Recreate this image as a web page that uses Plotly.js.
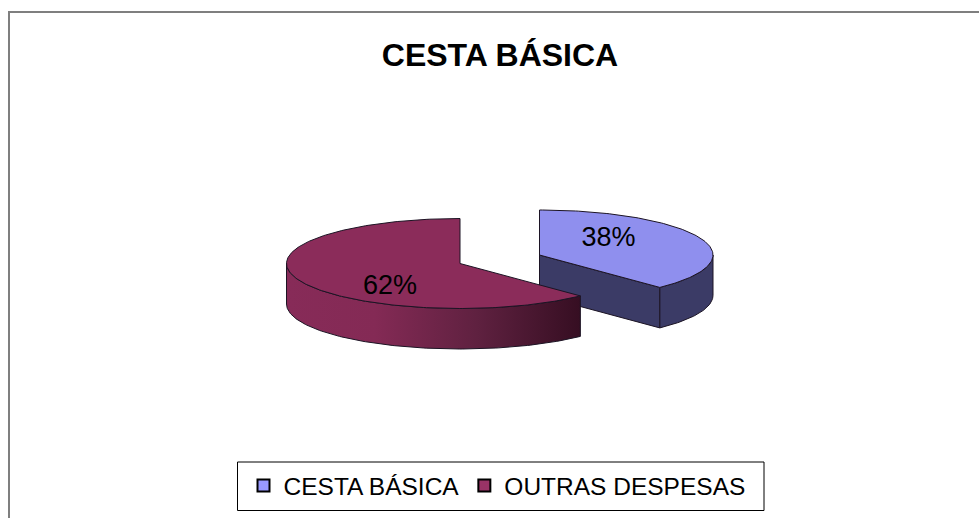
<!DOCTYPE html>
<html>
<head>
<meta charset="utf-8">
<script src="https://cdn.plot.ly/plotly-3.0.1.min.js"></script>
<style>html,body{margin:0;padding:0;background:#fff;overflow:hidden}</style>
</head>
<body>
<div id="chart" style="width:979px;height:518px"></div>
<script>
const categories = ["CESTA BÁSICA", "OUTRAS DESPESAS"];
const values = [37.8, 62.2];
const chartTitle = "CESTA BÁSICA";

const topColors = ["#8f8fee", "#8b2c5a"];
const sideColors = ["#3b3b66", "#8b2c5a"];
const legendColors = ["#9999ff", "#993366"];
const outline = "#1c1424";

// Pie geometry, in the pixel-like units of the axes
const centers = [[539.5, 255], [460, 263.5]];
const rx = 173.5, ry = 45, depth = 40.5;
const labelXs = [608.5, 390], labelYs = [239.5, 287];

const total = values.reduce((a, b) => a + b, 0);
const startDeg = [0, values[0] / total * 360];
const endDeg = [values[0] / total * 360, 360];

function pt(c, deg, drop) {
  const r = deg * Math.PI / 180;
  return [c[0] + rx * Math.sin(r), c[1] - ry * Math.cos(r) + (drop || 0)];
}
function arc(c, a, b, drop) {
  const out = [], n = Math.max(2, Math.ceil(Math.abs(b - a)));
  for (let i = 0; i <= n; i++) out.push(pt(c, a + (b - a) * i / n, drop));
  return out;
}
function poly(points, fill, extra) {
  const p = points.concat([points[0]]);
  return Object.assign({
    x: p.map(q => q[0]), y: p.map(q => q[1]), type: "scatter", mode: "lines",
    fill: "toself", fillcolor: fill,
    line: {color: outline, width: 1}, hoverinfo: "skip", showlegend: false
  }, extra || {});
}

const traces = [];
// Blue slice: cut face, rim, top
const c0 = centers[0];
const e0 = pt(c0, endDeg[0]);
traces.push(poly([c0, e0, [e0[0], e0[1] + depth], [c0[0], c0[1] + depth]], sideColors[0]));
traces.push(poly(arc(c0, 90, endDeg[0]).concat(arc(c0, endDeg[0], 90, depth)), sideColors[0]));
traces.push(poly([c0].concat(arc(c0, startDeg[0], endDeg[0])), topColors[0]));

// Maroon slice: shaded rim, top
const c1 = centers[1];
traces.push(poly(arc(c1, startDeg[1], 270).concat(arc(c1, 270, startDeg[1], depth)), sideColors[1], {
  fillgradient: {
    type: "horizontal",
    colorscale: [[0, "#872b58"], [0.3, "#842a55"], [0.65, "#5f2140"], [1, "#360e22"]]
  }
}));
traces.push(poly([c1].concat(arc(c1, startDeg[1], endDeg[1])), topColors[1]));

// Percentage labels
traces.push({
  x: labelXs, y: labelYs, type: "scatter", mode: "text",
  text: values.map(v => Math.round(v) + "%"), textposition: "middle center",
  textfont: {family: "Liberation Sans, Arial, sans-serif", size: 27, color: "#000"},
  hoverinfo: "skip", showlegend: false
});

// Legend entries
categories.forEach((name, i) => traces.push({
  x: [null], y: [null], type: "scatter", mode: "markers", name: name,
  marker: {symbol: "square", size: 12, color: legendColors[i], line: {color: "#000", width: 2}},
  hoverinfo: "skip"
}));

const layout = {
  width: 979, height: 518,
  margin: {l: 0, r: 0, t: 0, b: 0},
  paper_bgcolor: "#fff", plot_bgcolor: "#fff",
  font: {family: "Liberation Sans, Arial, sans-serif", color: "#000"},
  title: {
    text: "<b>" + chartTitle + "</b>",
    font: {size: 32, color: "#000"},
    x: 500 / 979, xanchor: "center", y: 1 - 55 / 518, yanchor: "middle"
  },
  xaxis: {range: [0, 979], visible: false, fixedrange: true},
  yaxis: {range: [518, 0], visible: false, fixedrange: true},
  showlegend: true,
  legend: {
    orientation: "h", x: 243.5 / 979, xanchor: "left", y: 1 - 485.5 / 518, yanchor: "middle",
    borderwidth: 0, bgcolor: "rgba(0,0,0,0)",
    font: {size: 24.5, color: "#000"}, itemsizing: "constant", traceorder: "normal"
  },
  shapes: [{
    type: "path", xref: "x", yref: "y",
    path: "M 9 518 L 9 12 L 979 12",
    line: {color: "#7f7f7f", width: 2}
  }, {
    type: "rect", xref: "x", yref: "y", x0: 237.5, x1: 764, y0: 462, y1: 510.5,
    line: {color: "#000", width: 1}
  }]
};
Plotly.newPlot("chart", traces, layout, {displayModeBar: false, staticPlot: true});
</script>
</body>
</html>
